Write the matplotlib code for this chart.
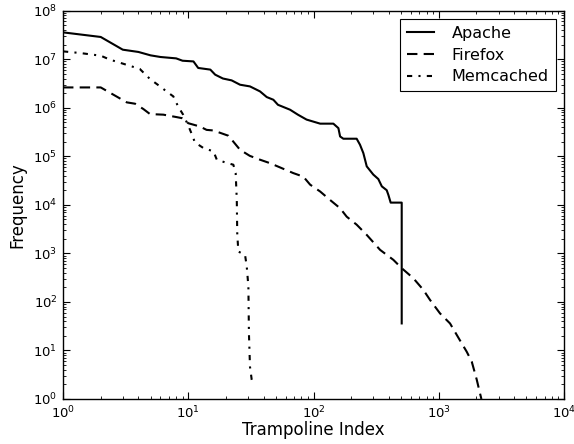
import matplotlib
matplotlib.use("Agg")
import matplotlib.pyplot as plt
from matplotlib.ticker import LogLocator, NullFormatter

# Apache (solid)
apache_x = [1, 2, 3, 4, 5, 6, 8, 9, 11, 12, 15, 16.4, 18.9, 22.2, 25.9, 31.1, 37.4,
            42.3, 47.8, 52, 65, 75, 88, 113, 144, 158, 163, 173, 221, 235, 250, 266,
            300, 329, 351, 384, 396, 413, 506, 506]
apache_y = [3.57e7, 2.87e7, 1.57e7, 1.41e7, 1.2e7, 1.11e7, 1.04e7, 9.3e6, 9.0e6, 6.6e6,
            6.1e6, 4.8e6, 4.0e6, 3.66e6, 2.98e6, 2.75e6, 2.17e6, 1.66e6, 1.46e6, 1.15e6,
            9.1e5, 7.2e5, 5.7e5, 4.7e5, 4.7e5, 3.8e5, 2.56e5, 2.3e5, 2.3e5, 1.73e5,
            1.16e5, 6.2e4, 4.2e4, 3.4e4, 2.4e4, 2.0e4, 1.6e4, 1.11e4, 1.11e4, 36]

# Firefox (dashed)
firefox_x = [1, 2, 2.68, 3.23, 3.76, 4.38, 4.95, 6.32, 8.1, 8.9, 10, 12.4, 14, 15.9,
             20.9, 22.9, 25.9, 31, 37.4, 45, 54, 69, 83, 94, 113, 135, 163, 184, 221,
             266, 340, 434, 506, 626, 753, 851, 1023, 1230, 1479, 1672, 1833, 2010,
             2135, 2190]
firefox_y = [2.62e6, 2.62e6, 1.7e6, 1.29e6, 1.21e6, 9.4e5, 7.4e5, 7.2e5, 6.4e5, 6.1e5,
             4.8e5, 4.1e5, 3.5e5, 3.4e5, 2.65e5, 2.0e5, 1.36e5, 1.02e5, 8.5e4, 7.2e4,
             5.9e4, 4.5e4, 3.8e4, 2.6e4, 1.88e4, 1.27e4, 8.5e3, 5.7e3, 3.9e3, 2.4e3,
             1.18e3, 735, 495, 308, 177, 110, 58, 36, 16, 9.4, 5.9, 2.5, 1.3, 1.0]

# Memcached (dash-dot)
memcached_x = [1, 1.37, 2, 2.37, 3.2, 4.1, 4.95, 5.95, 6.7, 7.6, 8.3, 9.1, 10, 10.7,
               11.3, 13.2, 15.9, 16.9, 20.3, 22.9, 23.9, 24.4, 24.6, 25.1, 28.4, 29.3,
               30.2, 30.5, 31.1, 32.1, 33.1]
memcached_y = [1.45e7, 1.34e7, 1.18e7, 9.8e6, 7.7e6, 6.3e6, 3.9e6, 2.75e6, 2.17e6,
               1.71e6, 1.06e6, 7.2e5, 4.3e5, 2.8e5, 1.93e5, 1.48e5, 1.26e5, 8.5e4,
               7.3e4, 6.7e4, 4.5e4, 1.27e4, 2.6e3, 1.09e3, 930, 535, 207, 22.6, 4.6,
               2.5, 1.9]

series_names = ["Apache", "Firefox", "Memcached"]

fig = plt.figure(figsize=(5.74, 4.44), dpi=100, facecolor="white")
ax = fig.add_axes([0.1098, 0.1014, 0.8728, 0.8746])

lw = 1.5
ax.plot(apache_x, apache_y, color="black", lw=lw, linestyle="-", label=series_names[0])
ax.plot(firefox_x, firefox_y, color="black", lw=lw, linestyle=(0, (5, 3)), label=series_names[1])
ax.plot(memcached_x, memcached_y, color="black", lw=lw, linestyle=(0, (2.5, 3, 1, 3)),
        label=series_names[2])

ax.set_xscale("log")
ax.set_yscale("log")
ax.set_xlim(1, 1e4)
ax.set_ylim(1, 1e8)

ax.xaxis.set_major_locator(LogLocator(base=10, numticks=10))
ax.yaxis.set_major_locator(LogLocator(base=10, numticks=20))
ax.xaxis.set_minor_locator(LogLocator(base=10, subs=range(2, 10), numticks=50))
ax.yaxis.set_minor_locator(LogLocator(base=10, subs=range(2, 10), numticks=50))
ax.xaxis.set_minor_formatter(NullFormatter())
ax.yaxis.set_minor_formatter(NullFormatter())

ax.tick_params(which="both", direction="in", top=True, right=True, labelsize=9.5)
ax.tick_params(which="major", length=5, width=0.8, pad=4)
ax.tick_params(which="minor", length=2.5, width=0.6)
for s in ax.spines.values():
    s.set_linewidth(1.0)

ax.set_xlabel("Trampoline Index", fontsize=12, labelpad=0)
ax.set_ylabel("Frequency", fontsize=12, labelpad=5)

leg = ax.legend(loc="upper right", fontsize=11.5, fancybox=False, framealpha=1,
                edgecolor="black", handlelength=1.7, handletextpad=1.1,
                borderpad=0.45, labelspacing=0.42, borderaxespad=0.5)
leg.get_frame().set_linewidth(0.8)

fig.savefig("out.png", dpi=100, facecolor="white")
